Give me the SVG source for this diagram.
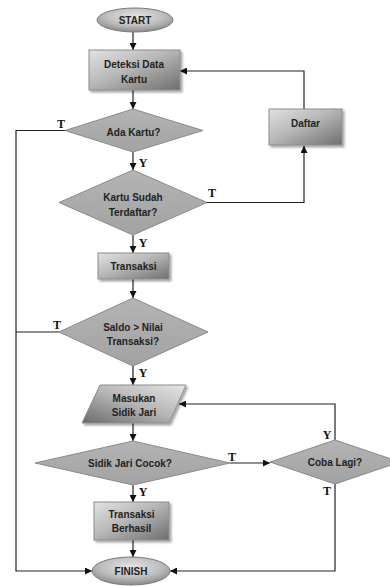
<svg xmlns="http://www.w3.org/2000/svg" width="390" height="586" viewBox="0 0 390 586">
<defs>
  <linearGradient id="gRect" x1="0" y1="0" x2="1" y2="1">
    <stop offset="0" stop-color="#e2e2e2"/>
    <stop offset="0.45" stop-color="#b8b8b8"/>
    <stop offset="1" stop-color="#6e6e6e"/>
  </linearGradient>
  <linearGradient id="gPara" x1="1" y1="0" x2="0" y2="1">
    <stop offset="0" stop-color="#e6e6e6"/>
    <stop offset="0.5" stop-color="#b4b4b4"/>
    <stop offset="1" stop-color="#6a6a6a"/>
  </linearGradient>
  <radialGradient id="gEll" cx="0.5" cy="0.35" r="0.65">
    <stop offset="0" stop-color="#e4e4e4"/>
    <stop offset="0.6" stop-color="#bdbdbd"/>
    <stop offset="1" stop-color="#8a8a8a"/>
  </radialGradient>
  <linearGradient id="gDia" x1="0" y1="0" x2="0" y2="1">
    <stop offset="0" stop-color="#b4b4b4"/>
    <stop offset="1" stop-color="#a2a2a2"/>
  </linearGradient>
  <filter id="sh" x="-10%" y="-10%" width="130%" height="140%">
    <feDropShadow dx="2" dy="2" stdDeviation="1.2" flood-color="#000" flood-opacity="0.35"/>
  </filter>
  <marker id="ah" viewBox="0 0 10 10" refX="10" refY="5" markerWidth="7" markerHeight="7" markerUnits="userSpaceOnUse" orient="auto">
    <path d="M0,0 L10,5 L0,10 Z" fill="#111"/>
  </marker>
</defs>
<style>
  .box { fill: url(#gRect); stroke: #8c8c8c; stroke-width: 1; filter: url(#sh); }
  .para { fill: url(#gPara); stroke: #8c8c8c; stroke-width: 1; filter: url(#sh); }
  .ell { fill: url(#gEll); stroke: #7a7a7a; stroke-width: 1; }
  .dia { fill: url(#gDia); stroke: #8a8a8a; stroke-width: 1; }
  .lbl { font-family: "Liberation Sans", Arial, sans-serif; font-weight: bold; font-size: 10px; fill: #222; text-anchor: middle; }
  .yt { font-family: "Liberation Serif", "Times New Roman", serif; font-weight: bold; font-size: 12px; fill: #111; text-anchor: middle; }
  .ln { fill: none; stroke: #222; stroke-width: 1.2; }
  .arr { fill: none; stroke: #222; stroke-width: 1.2; marker-end: url(#ah); }
</style>

<g id="connectors">
  <path class="arr" d="M133,32 V50"/>
  <path class="arr" d="M133,90 V109"/>
  <path class="arr" d="M133,152 V170"/>
  <path class="arr" d="M133,235 V253"/>
  <path class="arr" d="M133,279 V298"/>
  <path class="arr" d="M133,366 V385"/>
  <path class="arr" d="M133,423 V441"/>
  <path class="arr" d="M133,485 V502"/>
  <path class="arr" d="M133,540 V557"/>
  <path class="arr" d="M65,130.5 H16 V571 H92"/>
  <path class="ln" d="M59,332 H16"/>
  <path class="arr" d="M207,202.5 H304 V146"/>
  <path class="arr" d="M304,109 V71 H180"/>
  <path class="arr" d="M230,463 H270"/>
  <path class="arr" d="M335,440 V404 H179"/>
  <path class="arr" d="M335,484 V571 H170"/>
  <text class="yt" x="61" y="128">T</text>
  <text class="yt" x="143" y="167">Y</text>
  <text class="yt" x="212" y="197">T</text>
  <text class="yt" x="143" y="247">Y</text>
  <text class="yt" x="57" y="329">T</text>
  <text class="yt" x="143" y="377">Y</text>
  <text class="yt" x="232" y="461">T</text>
  <text class="yt" x="327" y="439">Y</text>
  <text class="yt" x="327" y="495">T</text>
  <text class="yt" x="143" y="496">Y</text>
</g>

<g id="start">
  <ellipse class="ell" cx="135" cy="20" rx="38" ry="12"/>
  <text class="lbl" x="135" y="24">START</text>
</g>
<g id="deteksi">
  <rect class="box" x="89" y="50" width="91" height="40"/>
  <text class="lbl" x="134" y="68">Deteksi Data</text>
  <text class="lbl" x="134" y="83">Kartu</text>
</g>
<g id="ada-kartu">
  <polygon class="dia" points="133,109 203,130.5 133,152 65,130.5"/>
  <text class="lbl" x="133.5" y="136">Ada Kartu?</text>
</g>
<g id="daftar">
  <rect class="box" x="269" y="109" width="73" height="36"/>
  <text class="lbl" x="305.5" y="127">Daftar</text>
</g>
<g id="kartu-sudah">
  <polygon class="dia" points="133,170 207,202.5 133,235 59,202.5"/>
  <text class="lbl" x="133" y="201">Kartu Sudah</text>
  <text class="lbl" x="133" y="216">Terdaftar?</text>
</g>
<g id="transaksi">
  <rect class="box" x="98" y="253" width="71" height="26"/>
  <text class="lbl" x="133.5" y="270">Transaksi</text>
</g>
<g id="saldo">
  <polygon class="dia" points="133,298 208,332 133,366 59,332"/>
  <text class="lbl" x="133" y="331">Saldo &gt; Nilai</text>
  <text class="lbl" x="133" y="345">Transaksi?</text>
</g>
<g id="masukan">
  <polygon class="para" points="100,385 186,385 169,423 82,423"/>
  <text class="lbl" x="134" y="402">Masukan</text>
  <text class="lbl" x="134" y="416">Sidik Jari</text>
</g>
<g id="sidik">
  <polygon class="dia" points="133,441 230,463 133,485 35,463"/>
  <text class="lbl" x="130" y="467">Sidik Jari Cocok?</text>
</g>
<g id="coba">
  <polygon class="dia" points="335,440 400,462 335,484 270,462"/>
  <text class="lbl" x="335" y="466">Coba Lagi?</text>
</g>
<g id="berhasil">
  <rect class="box" x="94" y="502" width="75" height="38"/>
  <text class="lbl" x="131.5" y="518">Transaksi</text>
  <text class="lbl" x="131.5" y="532">Berhasil</text>
</g>
<g id="finish">
  <ellipse class="ell" cx="131" cy="571" rx="39" ry="14"/>
  <text class="lbl" x="131" y="575">FINISH</text>
</g>
</svg>
